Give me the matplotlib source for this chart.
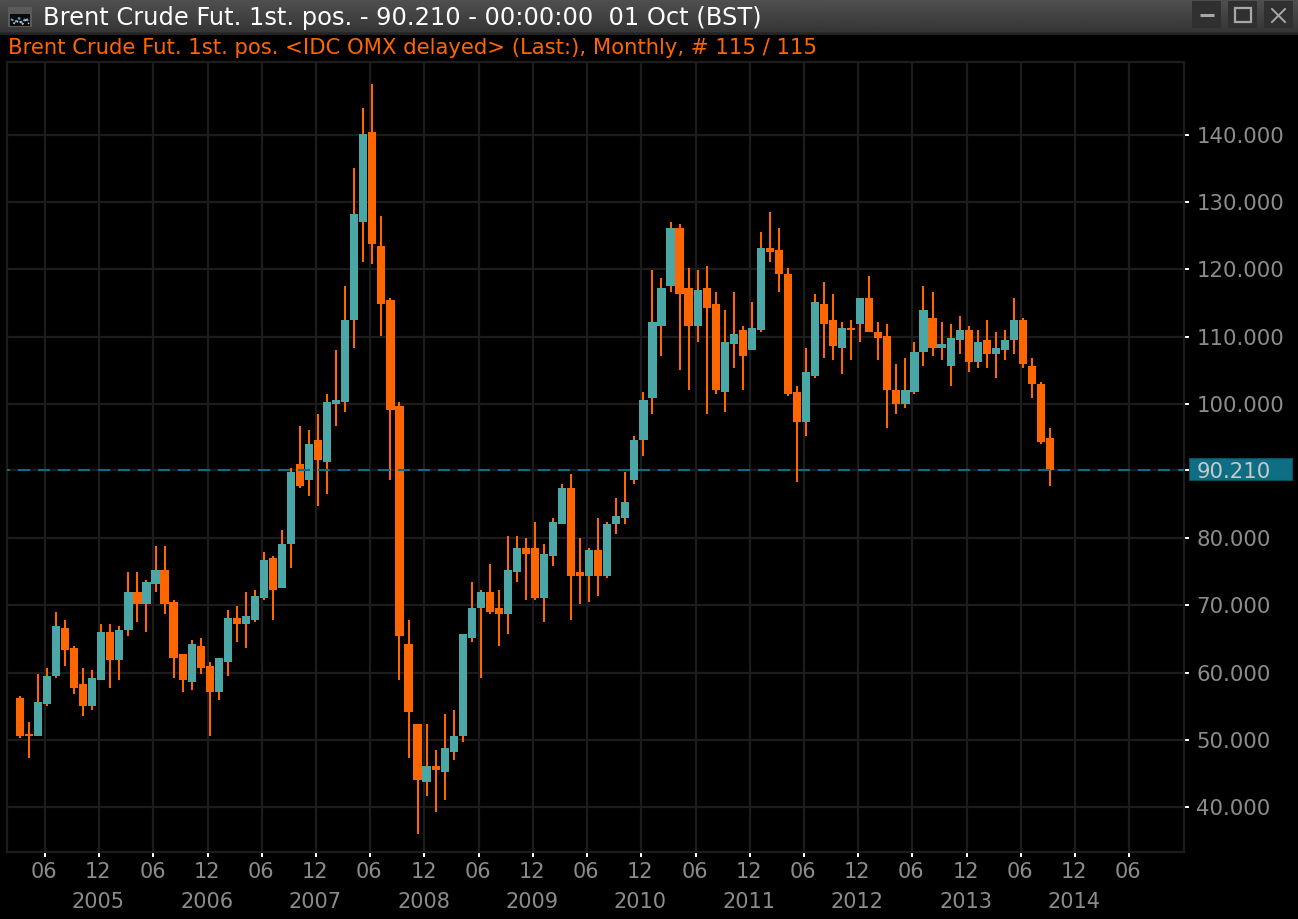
import numpy as np
import matplotlib
matplotlib.use("Agg")
import matplotlib.pyplot as plt
from matplotlib.patches import Rectangle
from matplotlib.transforms import ScaledTranslation

plt.rcParams['lines.scale_dashes'] = False
plt.rcParams['font.family'] = ['DejaVu Sans']

# Monthly candles
opens = [56.22,50.86,50.56,55.33,59.49,66.64,63.66,58.30,55.03,58.90,
         66.04,61.87,66.34,71.99,70.21,73.18,75.27,70.50,62.77,58.60,
         63.96,60.98,57.11,61.58,68.12,67.23,67.83,71.10,77.05,72.59,
         79.13,91.04,88.66,94.61,91.34,99.97,100.26,112.47,127.05,140.44,
         123.48,115.44,99.67,64.25,52.35,43.72,46.10,45.21,48.18,50.56,
         65.15,69.61,71.99,69.61,68.72,74.97,78.54,78.54,71.10,77.35,
         82.11,87.47,74.97,74.37,78.24,74.37,82.11,83.00,88.66,94.61,
         100.86,111.57,117.52,126.16,117.23,111.57,117.23,114.85,101.75,108.89,
         110.98,108.00,110.98,123.18,122.88,119.31,101.75,97.29,104.13,114.85,
         112.47,108.30,111.28,111.87,115.74,110.68,110.08,102.05,99.97,101.75,
         107.70,112.76,108.30,105.62,109.49,110.98,106.22,109.49,107.41,108.00,
         109.49,112.47,105.62,102.94,94.91]
closes = [50.56,50.56,55.62,59.49,66.93,63.36,57.71,55.03,59.20,66.04,
          61.87,66.34,71.99,70.21,73.48,75.27,70.21,62.17,58.90,64.25,
          60.68,57.11,62.17,68.12,67.23,68.42,71.40,76.75,72.29,79.13,
          89.85,87.76,94.01,91.63,100.26,100.56,112.47,128.24,140.14,123.77,
          114.85,99.07,65.44,54.14,44.02,46.10,45.51,48.78,50.56,65.74,
          69.61,71.99,69.02,68.72,75.27,78.54,77.65,71.10,77.65,82.41,
          87.47,74.37,74.37,78.24,74.37,82.11,83.30,85.38,94.61,100.56,
          112.17,117.23,126.16,116.33,111.57,116.93,114.25,102.05,109.19,110.38,
          107.11,111.28,123.18,122.58,119.31,101.45,97.29,104.73,115.14,111.87,
          108.60,111.28,110.98,115.74,110.68,109.79,102.05,99.97,102.05,107.70,
          113.95,108.30,108.89,109.79,110.98,106.22,109.19,107.41,108.30,109.49,
          112.47,105.92,102.94,94.31,90.21]
highs = [56.52,52.65,59.79,60.68,69.02,67.83,63.96,60.68,60.39,67.23,
         67.23,66.93,74.97,74.97,73.78,78.84,78.84,70.80,62.77,64.85,
         65.15,61.58,62.17,69.31,69.91,71.99,72.29,77.94,77.35,81.22,
         90.44,96.69,96.10,98.48,101.45,108.00,117.52,135.08,144.01,147.58,
         127.94,115.74,100.26,67.83,52.35,52.35,48.48,53.84,54.43,65.74,
         73.48,72.29,76.16,72.29,80.32,80.32,80.03,82.41,79.13,83.00,
         88.06,89.55,80.03,78.54,83.00,82.41,85.98,89.85,95.20,101.75,
         119.91,118.72,127.05,126.75,120.20,119.91,120.50,116.63,113.95,116.63,
         111.57,115.14,125.56,128.54,126.16,120.20,102.64,108.30,116.33,118.12,
         116.33,112.17,112.47,115.74,119.01,112.17,111.87,105.92,106.81,109.19,
         117.52,116.63,112.17,111.87,113.06,111.57,110.98,112.47,110.68,110.98,
         115.74,112.76,106.81,103.24,96.40]
lows = [50.27,47.29,50.56,55.03,59.20,60.98,56.81,53.54,54.43,58.90,
        57.71,58.90,65.44,67.53,66.04,71.99,68.72,59.20,57.11,57.41,
        59.79,50.56,55.92,59.49,64.55,63.66,67.53,70.80,67.83,72.59,
        75.56,87.47,86.28,84.79,86.57,96.69,98.78,108.30,121.10,120.80,
        110.08,88.66,58.90,47.29,35.98,41.64,39.26,41.04,46.99,49.67,
        64.55,59.20,68.72,63.96,65.74,73.48,70.80,70.80,67.53,75.86,
        82.11,67.83,70.21,70.50,71.40,74.08,80.62,82.11,88.06,92.23,
        98.48,107.11,116.63,105.03,102.05,109.19,98.48,101.45,98.78,105.32,
        102.05,108.00,110.68,121.10,116.63,101.16,88.36,95.20,103.84,106.81,
        106.51,104.43,106.51,109.19,110.68,106.51,96.40,98.48,99.37,101.45,
        105.62,107.11,106.51,102.64,107.41,104.73,105.32,105.32,103.84,106.51,
        107.41,105.32,100.86,94.01,87.76]
last_price = 90.21
y_ticks = [40, 50, 60, 70, 80, 90.21, 100, 110, 120, 130, 140]
x_labels = ['06', '12'] * 10 + ['06']
year_labels = ['2005', '2006', '2007', '2008', '2009', '2010', '2011', '2012', '2013', '2014']

ORANGE = '#ff6600'
TEAL = '#4ba6a6'
GRID = '#1c1c1c'
LINE = '#0f6b80'
W, H = 1298, 920

fig = plt.figure(figsize=(W / 100, H / 100), dpi=100, facecolor='black')

# window chrome, in pixels
ch = fig.add_axes([0, 0, 1, 1], zorder=-1)
ch.set_axis_off()


def grad(x0, x1, y0, y1, c0, c1):
    g = np.linspace(c0, c1, 32).reshape(-1, 1)
    ch.imshow(g, extent=(x0, x1, y1, y0), aspect='auto', cmap='gray',
              vmin=0, vmax=255, interpolation='bilinear')


grad(0, W, 0, 33, 0x50, 0x36)
grad(0, W, 33, 36, 0x2c, 0x20)
for bx in (1192, 1228, 1264):
    ch.add_patch(Rectangle((bx, 2), 29, 27, fc='#303030', ec='none'))
    grad(bx + 1, bx + 28, 3, 9, 0x60, 0x50)
    grad(bx + 1, bx + 28, 9, 20, 0x30, 0x0a)
    grad(bx + 1, bx + 28, 20, 28, 0x0a, 0x22)
SYM = '#a8a8a8'
ch.plot([1200, 1214], [15.5, 15.5], color=SYM, lw=2.2, solid_capstyle='butt')
ch.add_patch(Rectangle((1235, 9), 16, 14, fc='none', ec=SYM, lw=1.6))
ch.plot([1272, 1285], [10, 23], color=SYM, lw=1.4)
ch.plot([1272, 1285], [23, 10], color=SYM, lw=1.4)
ch.add_patch(Rectangle((8, 8), 24, 20, fc='#5a5a5a', ec='none'))
ch.add_patch(Rectangle((10, 15), 20, 12, fc='#0a0a0a', ec='none'))
ch.plot([11, 15, 19, 22, 26, 29], [20, 23, 19, 24, 19, 23], color='#6f9cc8', lw=1.4, ls=(0, (2, 1.4)))
ch.plot([11, 15, 19, 22, 26, 29], [22, 25, 21, 26, 21, 25], color='#cfcfcf', lw=1.0, ls=(1.4, (1.4, 2)))
ch.add_patch(Rectangle((1189, 459), 103, 22, fc='#0e6e84', ec='#0a4f60', lw=0.8))
ch.set_xlim(0, W)
ch.set_ylim(H, 0)

ch.text(43, 17.5, 'Brent Crude Fut. 1st. pos. - 90.210 - 00:00:00  01 Oct (BST)',
        color='white', fontsize=17.35, va='center', ha='left')
ch.text(8, 48.5, 'Brent Crude Fut. 1st. pos. <IDC OMX delayed> (Last:), Monthly, # 115 / 115',
        color=ORANGE, fontsize=15.22, va='center', ha='left')

# chart axes
ax = fig.add_axes([7 / W, 1 - 853 / H, 1177 / W, 790 / H], facecolor='black')
px = 9.035
ax.set_xlim(-13 / px, 1164 / px)
ax.set_ylim(40 + (807 - 852) / 6.72, 40 + (807 - 62) / 6.72)

idx = np.arange(len(opens))
o = np.array(opens)
c = np.array(closes)
h = np.array(highs)
l = np.array(lows)
up = c > o
colors = [TEAL if u else ORANGE for u in up]
ax.bar(idx, h - l, bottom=l, width=2.0 / px, color=ORANGE, linewidth=0, zorder=3)
ax.bar(idx, np.abs(c - o), bottom=np.minimum(o, c), width=8.2 / px, color=colors,
       linewidth=0, zorder=4)
ax.axhline(last_price, color=LINE, lw=1.5, ls=(6.48, (8.64, 5.76)), zorder=5)

x_ticks = 2.77 + 6 * np.arange(len(x_labels))
ax.set_xticks(x_ticks)
ax.set_xticklabels(x_labels)
ax.set_yticks(y_ticks)
ax.set_yticklabels([f'{v:.3f}' for v in y_ticks])
ax.yaxis.tick_right()
ax.grid(True, color=GRID, lw=1.6, zorder=0)
ax.set_axisbelow(True)
ax.tick_params(axis='x', colors='#8c8c8c', length=3.6, width=1.44, color='white',
               labelsize=15, pad=3)
ax.tick_params(axis='y', colors='#8c8c8c', length=3.6, width=1.44, color='white',
               labelsize=15.3, pad=5.3)
shift_up = ScaledTranslation(0, 1 / 100, fig.dpi_scale_trans)
for lab, v in zip(ax.get_yticklabels(), y_ticks):
    lab.set_transform(lab.get_transform() + shift_up)
    if v == last_price:
        lab.set_color('#c8c8c8')
shift = ScaledTranslation(-1 / 100, 0, fig.dpi_scale_trans)
for lab in ax.get_xticklabels():
    lab.set_transform(lab.get_transform() + shift)
for s in ax.spines.values():
    s.set_color(GRID)
    s.set_linewidth(1.6)

for i, y in enumerate(year_labels):
    ax.text(x_ticks[1 + 2 * i], -0.0625, y,
            transform=ax.get_xaxis_transform() + shift,
            color='#8c8c8c', fontsize=15, ha='center', va='center', clip_on=False)

fig.savefig('out.png', dpi=100, facecolor='black')
